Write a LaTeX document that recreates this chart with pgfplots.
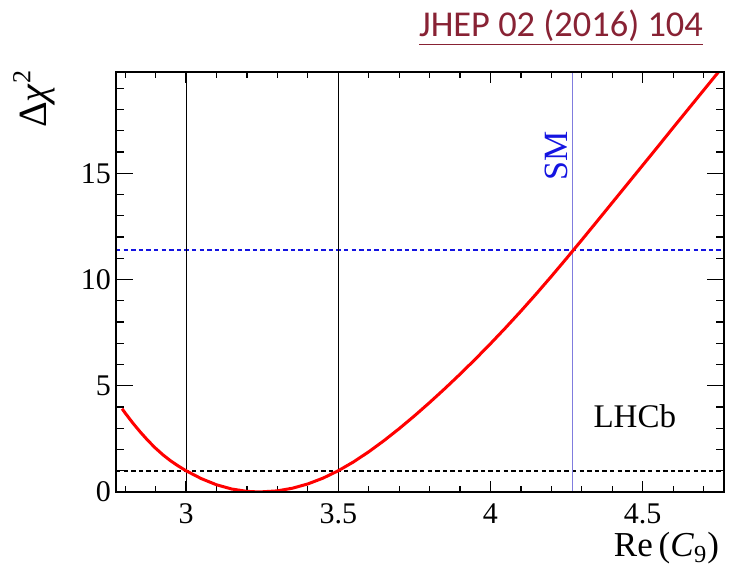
\documentclass[border=0pt]{standalone}
\usepackage{fontspec}
\setmainfont{Liberation Serif}
\newfontfamily\carlito{Carlito}
\usepackage{pgfplots}
\pgfplotsset{compat=1.18}

\definecolor{smline}{RGB}{128,124,222}
\definecolor{smblue}{RGB}{20,20,225}
\definecolor{jhep}{RGB}{136,34,52}

\pgfplotsset{
  lhcbframe/.style={
    scale only axis, width=304pt, height=210pt,
    xmin=2.77, xmax=4.767, ymin=0, ymax=19.77,
    axis line style={line width=0.7pt},
    every tick/.style={black, line width=0.6pt},
    /pgf/number format/assume math mode=true,
    ticklabel style={font=\fontsize{15}{15}\selectfont},
  }
}

\begin{document}
\begin{tikzpicture}
\useasboundingbox (-58pt,-36.5pt) rectangle (306.5pt,246pt);

% main axis: curve, lines and x ticks
\begin{axis}[lhcbframe,
    clip=true,
    xtick={3,3.5,4,4.5},
    minor xtick={2.8,2.9,3.1,3.2,3.3,3.4,3.6,3.7,3.8,3.9,4.1,4.2,4.3,4.4,4.6,4.7},
    ytick=\empty,
    major tick length=5.5pt, minor tick length=2.8pt,
    xticklabel style={yshift=-2.5pt},
]
% Delta chi^2 = 1 and SM level
\addplot[black, line width=0.9pt, dash pattern=on 2.2pt off 1.6pt] coordinates {(2.77,1)(4.767,1)};
\addplot[smblue, line width=0.9pt, dash pattern=on 2.2pt off 1.6pt] coordinates {(2.77,11.4)(4.767,11.4)};
% 1 sigma interval edges
\addplot[black, line width=0.5pt] coordinates {(3.0,0)(3.0,19.77)};
\addplot[black, line width=0.5pt] coordinates {(3.5,0)(3.5,19.77)};
% SM value
\addplot[smline, line width=0.8pt] coordinates {(4.27,0)(4.27,19.77)};
% scan of Re(C9)
\addplot[red, line width=1.5pt] coordinates {
  (2.79,3.92)(2.80,3.72)(2.825,3.25)(2.85,2.82)(2.875,2.42)(2.90,2.06)
  (2.925,1.74)(2.95,1.46)(2.975,1.22)(3.00,1.00)(3.05,0.63)(3.10,0.34)
  (3.15,0.14)(3.20,0.03)(3.24,0.0)(3.30,0.053)(3.35,0.179)(3.40,0.379)
  (3.45,0.652)(3.50,1.00)(3.55,1.415)(3.60,1.89)(3.65,2.415)(3.70,2.98)
  (3.75,3.58)(3.80,4.21)(3.85,4.865)(3.90,5.545)(3.95,6.25)(4.00,6.98)
  (4.05,7.735)(4.10,8.515)(4.15,9.32)(4.20,10.15)(4.25,11.0)(4.30,11.865)
  (4.35,12.74)(4.40,13.62)(4.45,14.50)(4.50,15.38)(4.55,16.26)(4.60,17.15)
  (4.65,18.03)(4.70,18.91)(4.75,19.79)(4.77,20.14)
};
\node[rotate=90, text=smblue, font=\fontsize{17}{17}\selectfont] at (axis cs:4.215,15.84) {SM};
\node[font=\fontsize{16.5}{16.5}\selectfont] at (axis cs:4.474,3.57) {LHCb};
\end{axis}

% second frame for the longer y ticks and labels
\begin{axis}[lhcbframe,
    xtick=\empty,
    ytick={0,5,10,15},
    minor ytick={1,2,3,4,6,7,8,9,11,12,13,14,16,17,18,19},
    major tick length=8.3pt, minor tick length=4.2pt,
    yticklabel style={xshift=1pt},
    clip=false,
]
\node[rotate=90, font=\fontsize{20}{20}\selectfont] at (rel axis cs:-0.135,0.935)
  {Δ\textit{χ}\raisebox{0.85ex}{\fontsize{13}{13}\selectfont 2}};
\node[anchor=base east, font=\fontsize{17.5}{17.5}\selectfont, yshift=-32.5pt, xshift=1pt]
  at (rel axis cs:1,0) {Re\,(\textit{C}\textsubscript{9})};
\end{axis}

\node[anchor=base, text=jhep, font=\carlito\fontsize{18.2}{18.2}\selectfont]
  at (222.5pt,227.6pt) {\underline{JHEP 02 (2016) 104}};
\end{tikzpicture}
\end{document}
